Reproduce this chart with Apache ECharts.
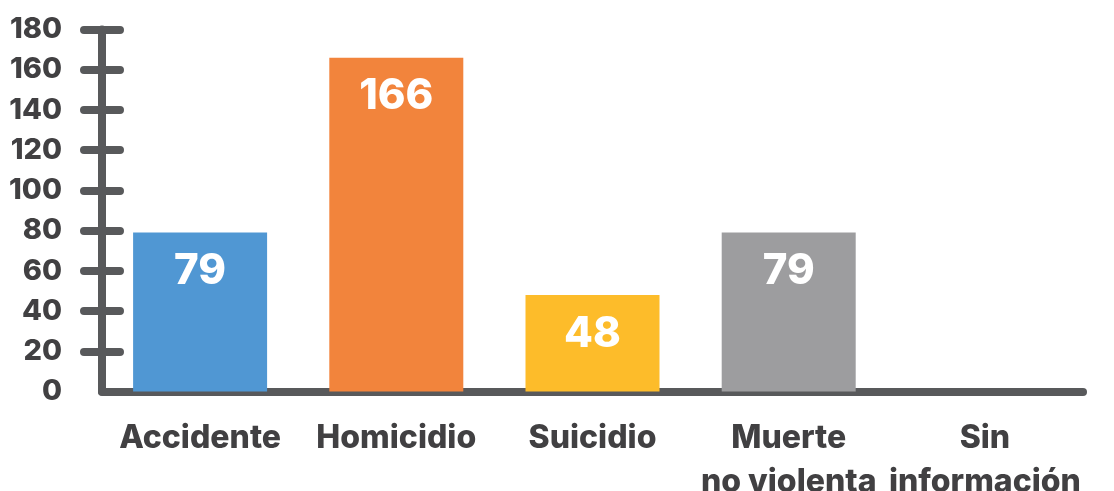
<!DOCTYPE html>
<html>
<head>
<meta charset="utf-8">
<script src="https://cdn.jsdelivr.net/npm/echarts@6/dist/echarts.min.js"></script>
<style>
  html, body { margin: 0; padding: 0; background: #ffffff; }
  #chart { width: 1114px; height: 491px; }
</style>
</head>
<body>
<div id="chart"></div>
<script>
// Causa de muerte: número de casos
const categories = ['Accidente', 'Homicidio', 'Suicidio', 'Muerte\nno violenta', 'Sin\ninformación'];
const values = [79, 166, 48, 79, 0];
const barColors = ['#5097d3', '#f2843c', '#fdbc2a', '#9d9d9f', '#9d9d9f'];
const yTicks = [0, 20, 40, 60, 80, 100, 120, 140, 160, 180];

const axisColor = '#58595b';
const textColor = '#414042';
const fontFamily = 'Inter, Lato, "Noto Sans", sans-serif';

const chart = echarts.init(document.getElementById('chart'), null, { renderer: 'canvas' });

const tickValues = yTicks.filter(v => v !== 0);
const yMin = yTicks[0];
const yMax = yTicks[yTicks.length - 1];
const yStep = yTicks[1] - yTicks[0];

chart.setOption({
  animation: false,
  backgroundColor: '#ffffff',
  grid: {
    left: 102, right: 31, top: 29.5, bottom: 99.5,
    containLabel: false,
    outerBoundsMode: 'none'
  },
  xAxis: {
    type: 'category',
    data: categories,
    axisLine: { show: true, lineStyle: { color: axisColor, width: 8, cap: 'round' } },
    axisTick: { show: false },
    axisLabel: {
      margin: 25,
      color: textColor,
      fontFamily: fontFamily,
      fontWeight: 800,
      fontSize: 32,
      lineHeight: 44,
      interval: 0
    }
  },
  yAxis: [
    {
      type: 'value',
      min: yMin,
      max: yMax,
      interval: yStep,
      splitLine: { show: false },
      axisLine: { show: true, lineStyle: { color: axisColor, width: 8, cap: 'round' } },
      axisTick: {
        show: true,
        length: 18,
        customValues: tickValues,
        lineStyle: { color: axisColor, width: 8, cap: 'round' }
      },
      axisLabel: {
        margin: 40,
        color: textColor,
        fontFamily: fontFamily,
        fontWeight: 800,
        fontSize: 29,
        customValues: yTicks
      }
    },
    {
      type: 'value',
      position: 'left',
      min: yMin,
      max: yMax,
      interval: yStep,
      splitLine: { show: false },
      axisLine: { show: false },
      axisLabel: { show: false },
      axisTick: {
        show: true,
        inside: true,
        length: 18,
        customValues: tickValues,
        lineStyle: { color: axisColor, width: 8, cap: 'round' }
      }
    }
  ],
  series: [
    {
      type: 'bar',
      yAxisIndex: 0,
      data: values.map((v, i) => ({
        value: v,
        itemStyle: { color: barColors[i] },
        label: { show: v > 0 }
      })),
      barWidth: 134,
      z: 1,
      label: {
        show: true,
        position: 'insideTop',
        distance: 18,
        color: '#ffffff',
        fontFamily: fontFamily,
        fontWeight: 800,
        fontSize: 42
      }
    }
  ]
});
</script>
</body>
</html>
